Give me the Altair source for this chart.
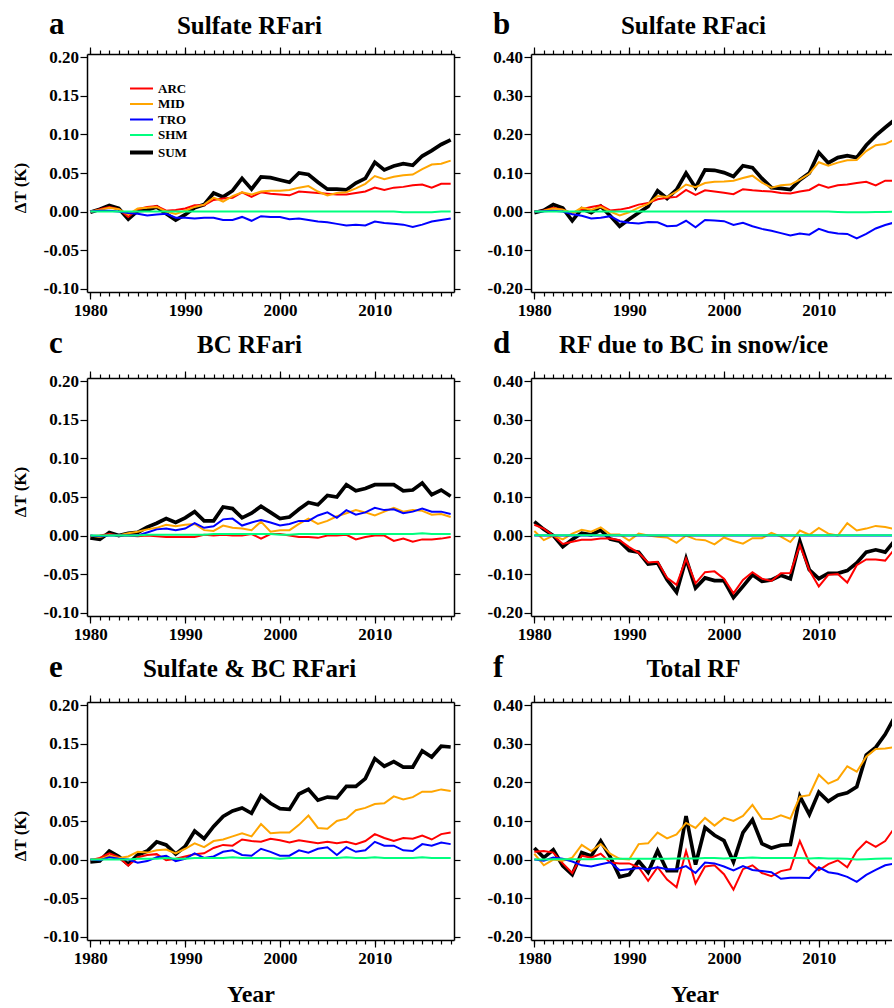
import altair as alt
import pandas as pd

# ---------------------------------------------------------------- data
YEARS = list(range(1980, 2019))
SERIES = ["ARC", "MID", "TRO", "SHM", "SUM"]

# a  Sulfate RFari
ARC_A = [-0.001, 0.003, 0.006, 0.003, -0.007, 0.003, 0.006, 0.007, 0.001, 0.002,
         0.004, 0.008, 0.008, 0.015, 0.017, 0.018, 0.025, 0.019, 0.025, 0.023,
         0.022, 0.021, 0.026, 0.025, 0.024, 0.023, 0.022, 0.022, 0.024, 0.026,
         0.031, 0.028, 0.031, 0.032, 0.034, 0.035, 0.031, 0.036, 0.036]
MID_A = [0.000, 0.002, 0.005, 0.003, -0.004, 0.004, 0.005, 0.006, 0.000, -0.003,
         0.001, 0.006, 0.009, 0.018, 0.013, 0.020, 0.025, 0.022, 0.026, 0.027,
         0.027, 0.028, 0.031, 0.033, 0.026, 0.021, 0.024, 0.025, 0.030, 0.036,
         0.046, 0.042, 0.045, 0.047, 0.048, 0.055, 0.061, 0.062, 0.066]
TRO_A = [0.000, 0.001, 0.001, 0.000, -0.002, -0.003, -0.005, -0.004, -0.003, -0.008,
         -0.008, -0.009, -0.008, -0.008, -0.011, -0.011, -0.007, -0.012, -0.006, -0.007,
         -0.007, -0.010, -0.009, -0.011, -0.013, -0.014, -0.016, -0.018, -0.017, -0.018,
         -0.013, -0.015, -0.016, -0.017, -0.020, -0.017, -0.013, -0.011, -0.009]
SHM_A = [0.000, 0.000, 0.000, 0.000, 0.000, 0.000, 0.000, 0.000, 0.000, 0.000,
         0.000, 0.000, 0.000, 0.000, 0.000, 0.000, 0.000, 0.000, 0.000, 0.000,
         0.000, 0.000, 0.000, 0.000, 0.000, 0.000, 0.000, 0.000, 0.000, 0.000,
         0.000, 0.000, 0.000, -0.001, -0.001, -0.001, -0.001, 0.000, 0.000]
SUM_A = [-0.001, 0.003, 0.008, 0.004, -0.010, 0.001, 0.002, 0.006, -0.003, -0.011,
         -0.004, 0.005, 0.009, 0.024, 0.019, 0.027, 0.043, 0.029, 0.045, 0.044,
         0.041, 0.038, 0.050, 0.048, 0.038, 0.029, 0.029, 0.028, 0.037, 0.043,
         0.064, 0.054, 0.059, 0.062, 0.060, 0.072, 0.079, 0.087, 0.093]

# b  Sulfate RFaci
ARC_B = [0.000, 0.003, 0.010, 0.005, -0.004, 0.006, 0.012, 0.016, 0.003, 0.005,
         0.010, 0.018, 0.022, 0.032, 0.036, 0.038, 0.056, 0.043, 0.055, 0.052,
         0.049, 0.045, 0.058, 0.055, 0.053, 0.052, 0.048, 0.047, 0.052, 0.056,
         0.070, 0.062, 0.068, 0.070, 0.074, 0.077, 0.068, 0.080, 0.080]
MID_B = [0.000, 0.002, 0.008, 0.005, -0.005, 0.010, 0.005, 0.012, 0.000, -0.010,
         -0.002, 0.010, 0.020, 0.040, 0.038, 0.052, 0.070, 0.063, 0.074, 0.077,
         0.078, 0.080, 0.087, 0.093, 0.075, 0.062, 0.068, 0.070, 0.083, 0.098,
         0.128, 0.119, 0.127, 0.133, 0.134, 0.157, 0.172, 0.175, 0.187]
TRO_B = [0.000, 0.001, 0.002, 0.000, -0.007, -0.011, -0.018, -0.016, -0.012, -0.025,
         -0.029, -0.031, -0.027, -0.028, -0.038, -0.037, -0.024, -0.041, -0.022, -0.023,
         -0.025, -0.035, -0.029, -0.038, -0.045, -0.050, -0.056, -0.062, -0.057, -0.060,
         -0.045, -0.053, -0.057, -0.058, -0.070, -0.058, -0.044, -0.035, -0.028]
SHM_B = [0.000, 0.000, 0.000, 0.000, 0.000, 0.000, 0.000, 0.000, 0.000, 0.000,
         0.000, 0.000, 0.000, 0.000, 0.000, 0.000, 0.000, 0.000, 0.000, 0.000,
         0.000, 0.000, 0.000, 0.000, 0.000, 0.000, 0.000, 0.000, 0.000, 0.000,
         0.000, 0.000, -0.001, -0.002, -0.002, -0.002, -0.001, -0.001, 0.000]
SUM_B = [-0.003, 0.003, 0.018, 0.009, -0.024, 0.007, -0.003, 0.014, -0.011, -0.038,
         -0.020, -0.003, 0.013, 0.054, 0.034, 0.057, 0.100, 0.062, 0.108, 0.107,
         0.101, 0.091, 0.119, 0.114, 0.086, 0.062, 0.060, 0.057, 0.082, 0.100,
         0.153, 0.126, 0.140, 0.145, 0.140, 0.172, 0.197, 0.218, 0.238]

# c  BC RFari
ARC_C = [-0.001, 0.000, 0.002, 0.000, 0.000, -0.001, 0.000, -0.001, -0.002, -0.002,
         -0.002, -0.002, 0.001, 0.000, 0.001, 0.000, 0.000, 0.002, -0.004, 0.002,
         0.002, 0.000, -0.002, -0.002, -0.003, 0.000, 0.000, 0.001, -0.005, -0.002,
         0.000, 0.000, -0.007, -0.004, -0.008, -0.005, -0.005, -0.004, -0.002]
MID_C = [0.000, -0.002, 0.001, 0.000, 0.003, 0.005, 0.008, 0.010, 0.014, 0.012,
         0.014, 0.015, 0.007, 0.006, 0.013, 0.010, 0.009, 0.007, 0.018, 0.005,
         0.007, 0.007, 0.015, 0.022, 0.015, 0.019, 0.025, 0.029, 0.033, 0.030,
         0.026, 0.031, 0.036, 0.031, 0.033, 0.032, 0.027, 0.028, 0.024]
TRO_C = [0.000, -0.001, 0.000, 0.000, 0.000, 0.000, 0.004, 0.008, 0.009, 0.007,
         0.009, 0.016, 0.010, 0.012, 0.021, 0.022, 0.013, 0.017, 0.020, 0.017,
         0.013, 0.015, 0.019, 0.019, 0.026, 0.030, 0.023, 0.033, 0.027, 0.030,
         0.036, 0.033, 0.034, 0.029, 0.031, 0.035, 0.031, 0.031, 0.028]
SHM_C = [0.000, 0.000, 0.000, 0.000, 0.000, 0.000, 0.001, 0.001, 0.001, 0.001,
         0.001, 0.001, 0.001, 0.002, 0.002, 0.002, 0.002, 0.002, 0.002, 0.002,
         0.001, 0.001, 0.002, 0.002, 0.002, 0.002, 0.002, 0.002, 0.002, 0.002,
         0.002, 0.002, 0.002, 0.002, 0.002, 0.003, 0.002, 0.002, 0.002]
SUM_C = [-0.003, -0.005, 0.004, 0.000, 0.003, 0.004, 0.011, 0.016, 0.022, 0.017,
         0.023, 0.031, 0.019, 0.019, 0.037, 0.035, 0.023, 0.029, 0.038, 0.030,
         0.022, 0.024, 0.034, 0.043, 0.040, 0.052, 0.050, 0.066, 0.058, 0.061,
         0.066, 0.066, 0.066, 0.058, 0.059, 0.068, 0.053, 0.059, 0.051]

# d  RF due to BC in snow/ice
ARC_D = [0.028, 0.018, 0.000, -0.022, -0.016, -0.011, -0.011, -0.008, -0.008, -0.012,
         -0.030, -0.045, -0.070, -0.068, -0.110, -0.128, -0.060, -0.124, -0.095, -0.093,
         -0.112, -0.150, -0.115, -0.095, -0.112, -0.118, -0.098, -0.097, -0.025, -0.090,
         -0.132, -0.102, -0.100, -0.122, -0.077, -0.062, -0.062, -0.065, -0.035]
MID_D = [0.012, -0.012, 0.000, -0.010, 0.005, 0.015, 0.010, 0.021, 0.003, 0.003,
         -0.013, 0.005, 0.000, -0.003, -0.005, -0.019, 0.000, -0.010, -0.012, -0.023,
         -0.005, -0.014, -0.021, -0.007, -0.007, 0.007, -0.003, -0.017, 0.013, 0.002,
         0.020, 0.005, 0.000, 0.032, 0.013, 0.018, 0.025, 0.022, 0.017]
TRO_D = [0.000, 0.000, 0.000, 0.000, 0.000, 0.000, 0.000, 0.000, 0.000, 0.000,
         0.000, 0.000, 0.000, 0.000, 0.000, 0.000, 0.000, 0.000, 0.000, 0.000,
         0.000, 0.000, 0.000, 0.000, 0.000, 0.000, 0.000, 0.000, 0.000, 0.000,
         0.000, 0.000, 0.000, 0.000, 0.000, 0.000, 0.000, 0.000, 0.000]
SHM_D = [0.001, 0.001, 0.001, 0.001, 0.001, 0.001, 0.001, 0.001, 0.001, 0.001,
         0.001, 0.001, 0.001, 0.001, 0.001, 0.001, 0.001, 0.001, 0.001, 0.001,
         0.001, 0.001, 0.001, 0.001, 0.001, 0.001, 0.001, 0.001, 0.001, 0.001,
         0.001, 0.001, 0.001, 0.001, 0.001, 0.001, 0.001, 0.001, 0.001]
SUM_D = [0.036, 0.016, 0.000, -0.029, -0.010, 0.006, 0.002, 0.014, -0.009, -0.015,
         -0.039, -0.043, -0.074, -0.071, -0.115, -0.147, -0.060, -0.136, -0.110, -0.117,
         -0.117, -0.161, -0.132, -0.102, -0.119, -0.115, -0.103, -0.112, -0.015, -0.089,
         -0.112, -0.098, -0.098, -0.091, -0.071, -0.043, -0.037, -0.043, -0.013]

# e  Sulfate & BC RFari
ARC_E = [-0.001, 0.002, 0.008, 0.003, -0.008, 0.003, 0.006, 0.007, -0.001, 0.001,
         0.004, 0.007, 0.008, 0.015, 0.019, 0.018, 0.026, 0.024, 0.023, 0.027,
         0.025, 0.022, 0.025, 0.023, 0.021, 0.023, 0.021, 0.023, 0.020, 0.024,
         0.033, 0.028, 0.024, 0.028, 0.027, 0.031, 0.026, 0.033, 0.035]
MID_E = [0.000, 0.000, 0.005, 0.002, 0.004, 0.010, 0.009, 0.012, 0.013, 0.008,
         0.014, 0.021, 0.016, 0.024, 0.026, 0.030, 0.034, 0.030, 0.046, 0.034,
         0.035, 0.035, 0.045, 0.057, 0.041, 0.040, 0.050, 0.053, 0.064, 0.067,
         0.072, 0.073, 0.082, 0.078, 0.081, 0.088, 0.088, 0.091, 0.089]
TRO_E = [0.000, -0.001, 0.003, 0.001, 0.000, -0.004, -0.002, 0.003, 0.005, -0.002,
         0.001, 0.008, 0.002, 0.004, 0.010, 0.012, 0.006, 0.005, 0.014, 0.010,
         0.005, 0.005, 0.012, 0.009, 0.014, 0.016, 0.006, 0.016, 0.010, 0.012,
         0.023, 0.018, 0.018, 0.012, 0.011, 0.020, 0.018, 0.022, 0.020]
SHM_E = [0.000, 0.000, 0.000, 0.000, 0.000, 0.001, 0.001, 0.001, 0.002, 0.001,
         0.001, 0.002, 0.002, 0.002, 0.002, 0.003, 0.002, 0.002, 0.002, 0.002,
         0.001, 0.002, 0.002, 0.002, 0.002, 0.002, 0.002, 0.003, 0.002, 0.002,
         0.003, 0.002, 0.002, 0.002, 0.002, 0.003, 0.002, 0.002, 0.002]
SUM_E = [-0.003, -0.002, 0.011, 0.004, -0.006, 0.006, 0.011, 0.023, 0.019, 0.007,
         0.017, 0.037, 0.027, 0.043, 0.056, 0.063, 0.067, 0.060, 0.083, 0.073,
         0.066, 0.065, 0.085, 0.091, 0.077, 0.081, 0.080, 0.095, 0.095, 0.105,
         0.131, 0.121, 0.127, 0.120, 0.120, 0.141, 0.133, 0.147, 0.146]

# f  Total RF
ARC_F = [0.020, 0.022, 0.018, -0.010, -0.035, 0.010, 0.005, 0.015, -0.008, -0.010,
         -0.010, -0.020, -0.055, -0.020, -0.052, -0.072, 0.022, -0.062, -0.018, -0.015,
         -0.038, -0.078, -0.025, -0.015, -0.035, -0.043, -0.030, -0.025, 0.048, -0.008,
         -0.028, -0.012, -0.002, -0.020, 0.022, 0.047, 0.033, 0.048, 0.083]
MID_F = [0.015, -0.015, 0.000, -0.003, 0.005, 0.038, 0.022, 0.040, 0.015, 0.002,
         0.000, 0.040, 0.042, 0.070, 0.055, 0.065, 0.095, 0.082, 0.108, 0.088,
         0.108, 0.100, 0.113, 0.142, 0.106, 0.105, 0.115, 0.106, 0.163, 0.167,
         0.220, 0.197, 0.208, 0.242, 0.228, 0.267, 0.287, 0.288, 0.292]
TRO_F = [0.000, -0.003, 0.005, 0.002, -0.005, -0.015, -0.018, -0.012, -0.007, -0.028,
         -0.025, -0.022, -0.025, -0.020, -0.025, -0.025, -0.017, -0.035, -0.008, -0.010,
         -0.018, -0.028, -0.017, -0.027, -0.030, -0.033, -0.050, -0.047, -0.047, -0.048,
         -0.020, -0.033, -0.037, -0.045, -0.058, -0.040, -0.027, -0.015, -0.010]
SHM_F = [0.000, 0.000, 0.001, 0.001, 0.001, 0.001, 0.001, 0.002, 0.002, 0.002,
         0.002, 0.002, 0.002, 0.002, 0.002, 0.003, 0.003, 0.003, 0.004, 0.004,
         0.003, 0.004, 0.004, 0.005, 0.004, 0.004, 0.004, 0.004, 0.004, 0.003,
         0.004, 0.003, 0.003, 0.002, 0.000, 0.001, 0.002, 0.003, 0.003]
SUM_F = [0.030, 0.005, 0.025, -0.016, -0.039, 0.018, 0.009, 0.048, 0.007, -0.045,
         -0.039, -0.004, -0.033, 0.023, -0.029, -0.029, 0.113, -0.013, 0.083, 0.063,
         0.049, -0.006, 0.070, 0.103, 0.041, 0.030, 0.037, 0.039, 0.164, 0.117,
         0.175, 0.151, 0.167, 0.173, 0.189, 0.271, 0.291, 0.325, 0.370]

TICKS_SMALL = [-0.10, -0.05, 0.00, 0.05, 0.10, 0.15, 0.20]
TICKS_LARGE = [-0.20, -0.10, 0.00, 0.10, 0.20, 0.30, 0.40]
DECADES = [1980, 1990, 2000, 2010]

COLORS_ABCD = {"ARC": "#ff0000", "MID": "#ffa500", "TRO": "#0000ff",
               "SHM": "#00ff7f", "SUM": "#000000"}
COLORS_EF = {"ARC": "#ff0000", "MID": "#ffa500", "TRO": "#1f5fff",
             "SHM": "#14e014", "SUM": "#000000"}

# ---------------------------------------------------------------- styling
FONT = "Liberation Serif"
PLOT_W = 367          # full panel width (left column)
PLOT_W_RIGHT = 361    # right column runs off the page edge
PLOT_H = 238
YEAR_SPAN = 38.7      # years covered by a full-width panel
X_START = 1979.65
AXIS_STYLE = dict(grid=False, domainColor="black", domainWidth=1.5,
                  tickColor="black", tickWidth=1.2,
                  labelFont=FONT, labelFontWeight="bold", labelFontSize=17,
                  labelColor="black")


def long_table(values):
    rows = []
    for name in SERIES:
        for yr, v in zip(YEARS, values[name]):
            rows.append({"year": yr, "value": v, "series": name})
    return pd.DataFrame(rows)


def x_axis(orient, major, x_end, show_labels=False, title=None):
    kw = dict(AXIS_STYLE)
    ticks = DECADES if major else YEARS
    kw.update(orient=orient, values=[t for t in ticks if t <= x_end],
              tickSize=7 if major else 4, labels=show_labels, domain=major,
              format="d", labelPadding=3)
    if title:
        kw.update(title=title, titleFont=FONT, titleFontWeight="bold",
                  titleFontSize=24, titleColor="black",
                  titleX=PLOT_W / 2 - 20, titleY=61,
                  titleAlign="center", titleBaseline="alphabetic")
    else:
        kw["title"] = None
    return alt.Axis(**kw)


def y_axis(orient, ticks, show_labels=False):
    kw = dict(AXIS_STYLE)
    kw.update(orient=orient, values=ticks, tickSize=7 if orient == "left" else 6,
              labels=show_labels, labelPadding=1.5, title=None,
              labelExpr="(datum.value < 0 ? '-' : '') + format(abs(datum.value), '.2f')")
    return alt.Axis(**kw)


def panel(values, colors, y_domain, y_ticks, letter, heading,
          right_col, bottom_row, head_y, dt_y=None, show_legend=False):
    df = long_table(values)
    width = PLOT_W_RIGHT if right_col else PLOT_W
    x_end = X_START + YEAR_SPAN * width / PLOT_W
    xs = alt.Scale(domain=[X_START, x_end], nice=False, zero=False)
    ys = alt.Scale(domain=y_domain, nice=False, zero=False)
    cscale = alt.Scale(domain=SERIES, range=[colors[s] for s in SERIES])
    if show_legend:
        legend = alt.Legend(title=None, orient="none", legendX=48, legendY=28,
                            symbolType="M-1.84,0H1.84", symbolSize=156,
                            symbolStrokeWidth={"expr": "datum.value === 'SUM' ? 4 : 2"},
                            labelFont=FONT, labelFontWeight="bold",
                            labelFontSize=13, labelColor="black",
                            labelOffset=10, rowPadding=1.5, padding=0)
    else:
        legend = None

    # each series layer carries one of the frame's axes
    axes = {
        "SUM": (x_axis("bottom", True, x_end, True, "Year" if bottom_row else None),
                y_axis("left", y_ticks, True)),
        "ARC": (x_axis("bottom", False, x_end),
                None if right_col else y_axis("right", y_ticks)),
        "MID": (x_axis("top", True, x_end), None),
        "TRO": (x_axis("top", False, x_end), None),
        "SHM": (None, None),
    }
    layers = []
    for name in ["SUM", "ARC", "MID", "TRO", "SHM"]:
        xa, ya = axes[name]
        layers.append(
            alt.Chart(df)
            .transform_filter(alt.datum.series == name)
            .mark_line(clip=True)
            .encode(
                x=alt.X("year:Q", scale=xs, axis=xa),
                y=alt.Y("value:Q", scale=ys, axis=ya),
                color=alt.Color("series:N", scale=cscale, legend=legend),
                strokeWidth=alt.value(3.7 if name == "SUM" else 2),
            )
        )

    label_src = alt.Data(values=[{"letter": letter, "heading": heading,
                                  "ylabel": "ΔT (K)"}])
    layers.append(alt.Chart(label_src).mark_text(
        font=FONT, fontWeight="bold", fontSize=31, align="left",
        baseline="alphabetic", color="black"
    ).encode(text="letter:N", x=alt.value(-38), y=alt.value(head_y)))
    layers.append(alt.Chart(label_src).mark_text(
        font=FONT, fontWeight="bold", fontSize=25, align="center",
        baseline="alphabetic", color="black"
    ).encode(text="heading:N", x=alt.value(PLOT_W / 2 - 21), y=alt.value(head_y)))
    if dt_y is not None:
        layers.append(alt.Chart(label_src).mark_text(
            font=FONT, fontWeight="bold", fontSize=17, align="center",
            baseline="alphabetic", color="black", angle=270
        ).encode(text="ylabel:N", x=alt.value(-61), y=alt.value(dt_y)))

    return (
        alt.layer(*layers)
        .resolve_axis(x="independent", y="independent")
        .properties(width=width, height=PLOT_H)
    )


def vals(arc, mid, tro, shm, tot):
    return {"ARC": arc, "MID": mid, "TRO": tro, "SHM": shm, "SUM": tot}


DOM_SMALL = [-0.1044, 0.2044]
DOM_LARGE = [-0.2088, 0.4088]

pa = panel(vals(ARC_A, MID_A, TRO_A, SHM_A, SUM_A), COLORS_ABCD, DOM_SMALL, TICKS_SMALL,
           "a", "Sulfate RFari", False, False, -20, dt_y=134, show_legend=True)
pb = panel(vals(ARC_B, MID_B, TRO_B, SHM_B, SUM_B), COLORS_ABCD, DOM_LARGE, TICKS_LARGE,
           "b", "Sulfate RFaci", True, False, -20)
pc = panel(vals(ARC_C, MID_C, TRO_C, SHM_C, SUM_C), COLORS_ABCD, DOM_SMALL, TICKS_SMALL,
           "c", "BC RFari", False, False, -25, dt_y=114)
pd_ = panel(vals(ARC_D, MID_D, TRO_D, SHM_D, SUM_D), COLORS_ABCD, DOM_LARGE, TICKS_LARGE,
            "d", "RF due to BC in snow/ice", True, False, -25)
pe = panel(vals(ARC_E, MID_E, TRO_E, SHM_E, SUM_E), COLORS_EF, DOM_SMALL, TICKS_SMALL,
           "e", "Sulfate & BC RFari", False, True, -25, dt_y=134)
pf = panel(vals(ARC_F, MID_F, TRO_F, SHM_F, SUM_F), COLORS_EF, DOM_LARGE, TICKS_LARGE,
           "f", "Total RF", True, True, -25)

chart = (
    alt.concat(pa, pb, pc, pd_, pe, pf, columns=2,
               spacing={"row": 86, "column": 77}, bounds="flush")
    .configure_view(stroke=None)
    .properties(padding={"left": 12, "top": 9, "right": 0, "bottom": 0},
                background="white")
)

chart.save("out.html", embed_options={"renderer": "svg", "actions": False})
